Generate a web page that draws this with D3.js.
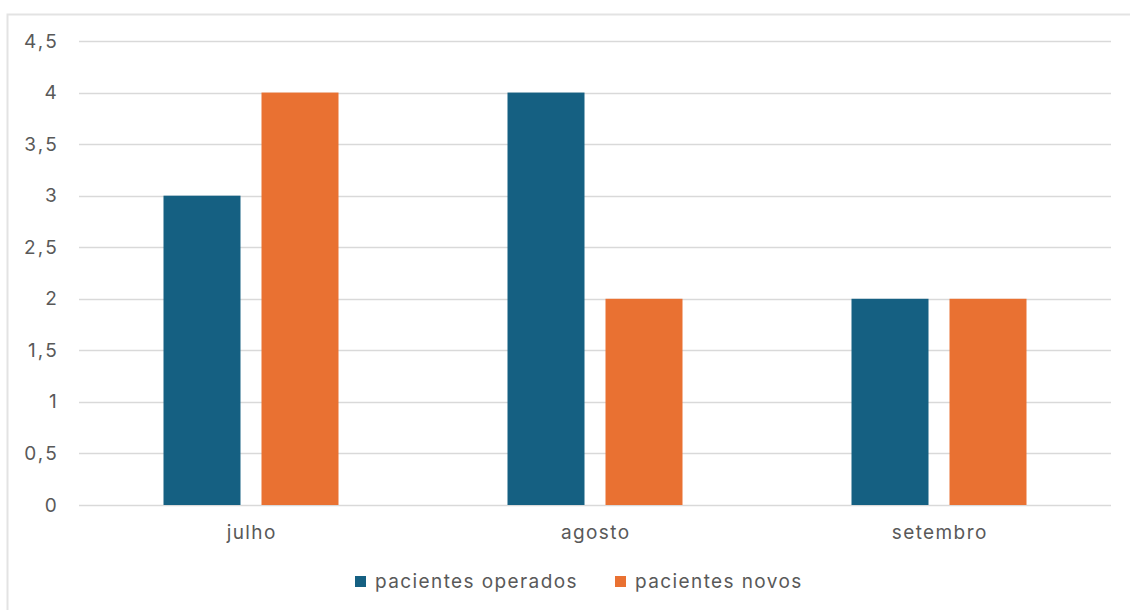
<!DOCTYPE html>
<html>
<head>
<meta charset="utf-8">
<script src="https://cdn.jsdelivr.net/npm/d3@7"></script>
<style>
  html, body { margin: 0; padding: 0; background: #fff; }
  svg { display: block; }
  text { font-family: Inter, "Open Sans", sans-serif; fill: #595959; }
</style>
</head>
<body>
<svg id="chart" width="1130" height="610"></svg>
<script>
const categories = ["julho", "agosto", "setembro"];
const seriesNames = ["pacientes operados", "pacientes novos"];
const operados = [3, 4, 2];
const novos = [4, 2, 2];
const yTicks = [0, 0.5, 1, 1.5, 2, 2.5, 3, 3.5, 4, 4.5];
const colors = ["#156082", "#E97132"];

const svg = d3.select("#chart");
const W = 1130, H = 610;
const margin = { left: 79, right: 19, top: 41, bottom: 105 };
const FONT = "Inter, 'Open Sans', sans-serif";
const FS = 19, LS = 1.4;

// chart frame
svg.append("rect")
  .attr("x", 7.5).attr("y", 14.5)
  .attr("width", W + 10).attr("height", H + 10)
  .attr("fill", "#fff").attr("stroke", "#e3e3e3").attr("stroke-width", 2);

const x = d3.scaleBand().domain(categories)
  .range([margin.left, W - margin.right]).paddingInner(0).paddingOuter(0);
const y = d3.scaleLinear().domain([0, 4.5])
  .range([H - margin.bottom, margin.top]);

const fmt = v => String(v).replace(".", ",");

// gridlines
svg.append("g").selectAll("line").data(yTicks).join("line")
  .attr("x1", margin.left).attr("x2", W - margin.right)
  .attr("y1", d => Math.round(y(d)) + 0.5).attr("y2", d => Math.round(y(d)) + 0.5)
  .attr("stroke", "#d9d9d9").attr("stroke-width", 1.5);

// y axis labels
const yAxis = d3.axisLeft(y).tickValues(yTicks).tickFormat(fmt).tickSize(0).tickPadding(20);
const gy = svg.append("g").attr("transform", `translate(${margin.left},0)`).call(yAxis);
gy.select(".domain").remove();
gy.selectAll("text").attr("font-size", FS).attr("fill", "#595959")
  .attr("font-family", FONT).attr("letter-spacing", 2.2);

// x axis labels
const xAxis = d3.axisBottom(x).tickSize(0).tickPadding(21);
const gx = svg.append("g").attr("transform", `translate(0,${H - margin.bottom})`).call(xAxis);
gx.select(".domain").remove();
gx.selectAll("text").attr("font-size", FS).attr("fill", "#595959")
  .attr("font-family", FONT).attr("letter-spacing", LS).attr("dx", LS / 2);

// bars
const bw = x.bandwidth();
const barW = bw * 77 / 344;
const gap = bw * 21 / 344;
const groupW = 2 * barW + gap;
const sub = d3.scaleOrdinal().domain(seriesNames)
  .range([(bw - groupW) / 2, (bw - groupW) / 2 + barW + gap]);

const rows = categories.map((c, i) => ({ c, vals: [operados[i], novos[i]] }));
const groups = svg.append("g").selectAll("g").data(rows).join("g")
  .attr("transform", d => `translate(${x(d.c)},0)`);
groups.selectAll("rect").data(d => d.vals.map((v, j) => ({ v, j })))
  .join("rect")
  .attr("x", d => sub(seriesNames[d.j]))
  .attr("width", barW)
  .attr("y", d => y(d.v))
  .attr("height", d => y(0) - y(d.v))
  .attr("fill", d => colors[d.j]);

// legend
const legend = svg.append("g");
const legendItems = [{ x: 355, name: seriesNames[0], color: colors[0] },
                     { x: 615, name: seriesNames[1], color: colors[1] }];
legendItems.forEach(it => {
  legend.append("rect").attr("x", it.x).attr("y", 576).attr("width", 11).attr("height", 11)
    .attr("fill", it.color);
  legend.append("text").attr("x", it.x + 20).attr("y", 588).attr("font-size", FS)
    .attr("letter-spacing", LS).text(it.name);
});
</script>
</body>
</html>
